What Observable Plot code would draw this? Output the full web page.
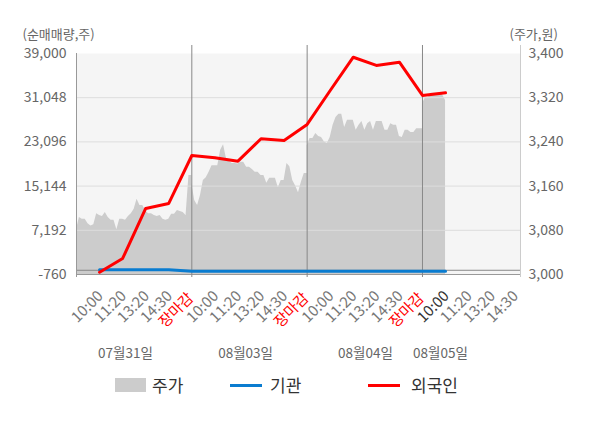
<!DOCTYPE html>
<html><head><meta charset="utf-8">
<script src="https://cdn.jsdelivr.net/npm/d3@7"></script>
<script src="https://cdn.jsdelivr.net/npm/@observablehq/plot@0.6"></script>
<style>
body{margin:0;background:#fff;font-family:"Noto Sans CJK KR","Noto Sans",sans-serif;}
#wrap{position:relative;width:600px;height:428px;overflow:hidden}
#chart svg{display:block}
.lg{position:absolute;font-size:17px;color:#333;line-height:20px}
.sw{position:absolute}
</style></head><body><div id="wrap"><div id="chart"></div>
<div class="sw" style="left:115px;top:378px;width:31px;height:14px;background:#cccccc"></div>
<div class="lg" style="left:152px;top:375px">주가</div>
<div class="sw" style="left:230px;top:384px;width:32px;height:3px;background:#0a7cd0"></div>
<div class="lg" style="left:270px;top:375px">기관</div>
<div class="sw" style="left:368px;top:384px;width:32px;height:3px;background:#ff0000"></div>
<div class="lg" style="left:411px;top:375px">외국인</div>
</div>
<script>
// ---- data ----
const leftTicks = [-760, 7192, 15144, 23096, 31048, 39000];
const rightTicks = [3000, 3080, 3160, 3240, 3320, 3400];
const dayLabels = ["07월31일", "08월03일", "08월04일", "08월05일"];
const dayLabelSlots = [2.12, 7.33, 12.53, 15.78];
const sessionLabels = ["10:00", "11:20", "13:20", "14:30", "장마감"];
const lastDayLabels = ["10:00", "11:20", "13:20", "14:30"];
// net buying (shares) at each session checkpoint, slots 1..16
const foreign = [-350, 2120, 11120, 12020, 20650, 20230, 19630, 23660, 23360, 26240, 32340, 38330, 36860, 37430, 31460, 31930];
const institution = [100, 100, 100, 100, -170, -170, -170, -170, -170, -170, -170, -170, -170, -170, -170, -170];
// intraday price samples (won)
const priceDay1 = [3081,3103,3100,3100,3092,3088,3090,3110,3107,3105,3112,3103,3098,3098,3081,3100,3100,3098,3105,3110,3118,3136,3125,3125,3115,3110,3110,3107,3105,3107,3100,3098,3100,3109,3109,3116,3114,3112,3107,3179,3179];
const priceDay2 = [3165,3134,3125,3143,3170,3175,3185,3197,3197,3197,3225,3235,3210,3205,3201,3201,3200,3203,3203,3194,3194,3190,3185,3185,3179,3179,3165,3174,3174,3174,3157,3170,3170,3201,3195,3170,3160,3148,3167,3183,3183];
const priceDay3 = [3233,3246,3246,3255,3250,3248,3240,3237,3248,3270,3284,3290,3290,3266,3279,3279,3279,3261,3270,3277,3261,3273,3277,3261,3277,3277,3277,3261,3261,3273,3270,3270,3250,3248,3261,3261,3257,3257,3264,3264,3264];
const priceDay4 = [3309,3320,3320,3328,3328,3328,3328,3325,3315];

// ---- build ----
const Y0 = leftTicks[0], Y1 = leftTicks[leftTicks.length - 1];
const P0 = rightTicks[0], P1 = rightTicks[rightTicks.length - 1];
const pToY = p => Y0 + (p - P0) / (P1 - P0) * (Y1 - Y0);
const yToP = y => P0 + (y - Y0) / (Y1 - Y0) * (P1 - P0);
const SLOTS = 5, STEP = SLOTS / 40;
const priceData = [priceDay1, priceDay2, priceDay3, priceDay4].flatMap((arr, d) =>
  arr.map((p, k) => ({slot: d * SLOTS + k * STEP, price: p})));
const flowF = foreign.map((v, i) => ({slot: i + 1, v}));
const flowI = institution.map((v, i) => ({slot: i + 1, v}));
const xTicks = [];
for (let d = 0; d < 3; d++) sessionLabels.forEach((l, i) => xTicks.push({slot: d * SLOTS + i + 1, label: l}));
lastDayLabels.forEach((l, i) => xTicks.push({slot: 3 * SLOTS + i + 1, label: l}));
const tickGray = xTicks.filter((t, i) => t.label !== "장마감" && i !== 15);
const tickRed = xTicks.filter(t => t.label === "장마감");
const tickNow = [xTicks[15]];
const dates = dayLabels.map((l, i) => ({slot: dayLabelSlots[i], label: l}));
const fmt = v => Math.round(v).toLocaleString("en-US");
const XMAX = 19.25;

const chart = Plot.plot({
  width: 600, height: 370,
  marginLeft: 76, marginRight: 80, marginTop: 53, marginBottom: 96,
  style: {fontFamily: '"Noto Sans CJK KR","Noto Sans",sans-serif', fontSize: "13px", background: "transparent", overflow: "visible"},
  x: {domain: [0, XMAX], axis: null},
  y: {domain: [Y0, Y1], axis: null},
  marks: [
    Plot.frame({fill: "#f5f5f5", stroke: "none"}),
    Plot.areaY(priceData, {x: "slot", y1: Y0, y2: d => pToY(d.price), fill: "#cccccc"}),
    Plot.gridY(leftTicks.slice(1, -1), {stroke: "#dddddd", strokeOpacity: 1}),
    Plot.ruleY([0], {stroke: "#888888"}),
    Plot.ruleY([Y0], {stroke: "#999999"}),
    Plot.ruleX([0], {stroke: "#999999", insetBottom: -3}),
    Plot.ruleX([XMAX], {stroke: "#cccccc", insetTop: -8, insetBottom: -3}),
    Plot.ruleX([SLOTS, 2 * SLOTS, 3 * SLOTS], {stroke: "#888888", insetTop: -8, insetBottom: -3}),
    Plot.line(flowI, {x: "slot", y: "v", stroke: "#0a7cd0", strokeWidth: 3}),
    Plot.line(flowF, {x: "slot", y: "v", stroke: "#ff0000", strokeWidth: 3}),
    Plot.axisY(leftTicks, {anchor: "left", tickSize: 0, tickPadding: 10, fill: "#666", fontSize: 14, label: null, tickFormat: fmt}),
    Plot.axisY(rightTicks.map(pToY), {anchor: "right", tickSize: 0, tickPadding: 8, fill: "#666", fontSize: 14, label: null, tickFormat: d => fmt(yToP(d))}),
    Plot.text(tickGray, {x: "slot", y: Y0, text: "label", rotate: -45, textAnchor: "end", dx: 1, dy: 19, fill: "#777", fontSize: 15}),
    Plot.text(tickRed, {x: "slot", y: Y0, text: "label", rotate: -45, textAnchor: "end", dx: -1, dy: 21, fill: "#ff0000", fontSize: 15}),
    Plot.text(tickNow, {x: "slot", y: Y0, text: "label", rotate: -45, textAnchor: "end", dx: 1, dy: 19, fill: "#333", fontSize: 15}),
    Plot.text(dates, {x: "slot", y: Y0, text: "label", dy: 79, fill: "#666", fontSize: 13.5}),
    Plot.text(["(순매매량,주)"], {frameAnchor: "top-left", textAnchor: "start", dx: -54, dy: -24, fill: "#666", fontSize: 13}),
    Plot.text(["(주가,원)"], {frameAnchor: "top-right", textAnchor: "start", dx: -11, dy: -24, fill: "#666", fontSize: 13})
  ]
});
document.getElementById("chart").appendChild(chart);
</script></body></html>
